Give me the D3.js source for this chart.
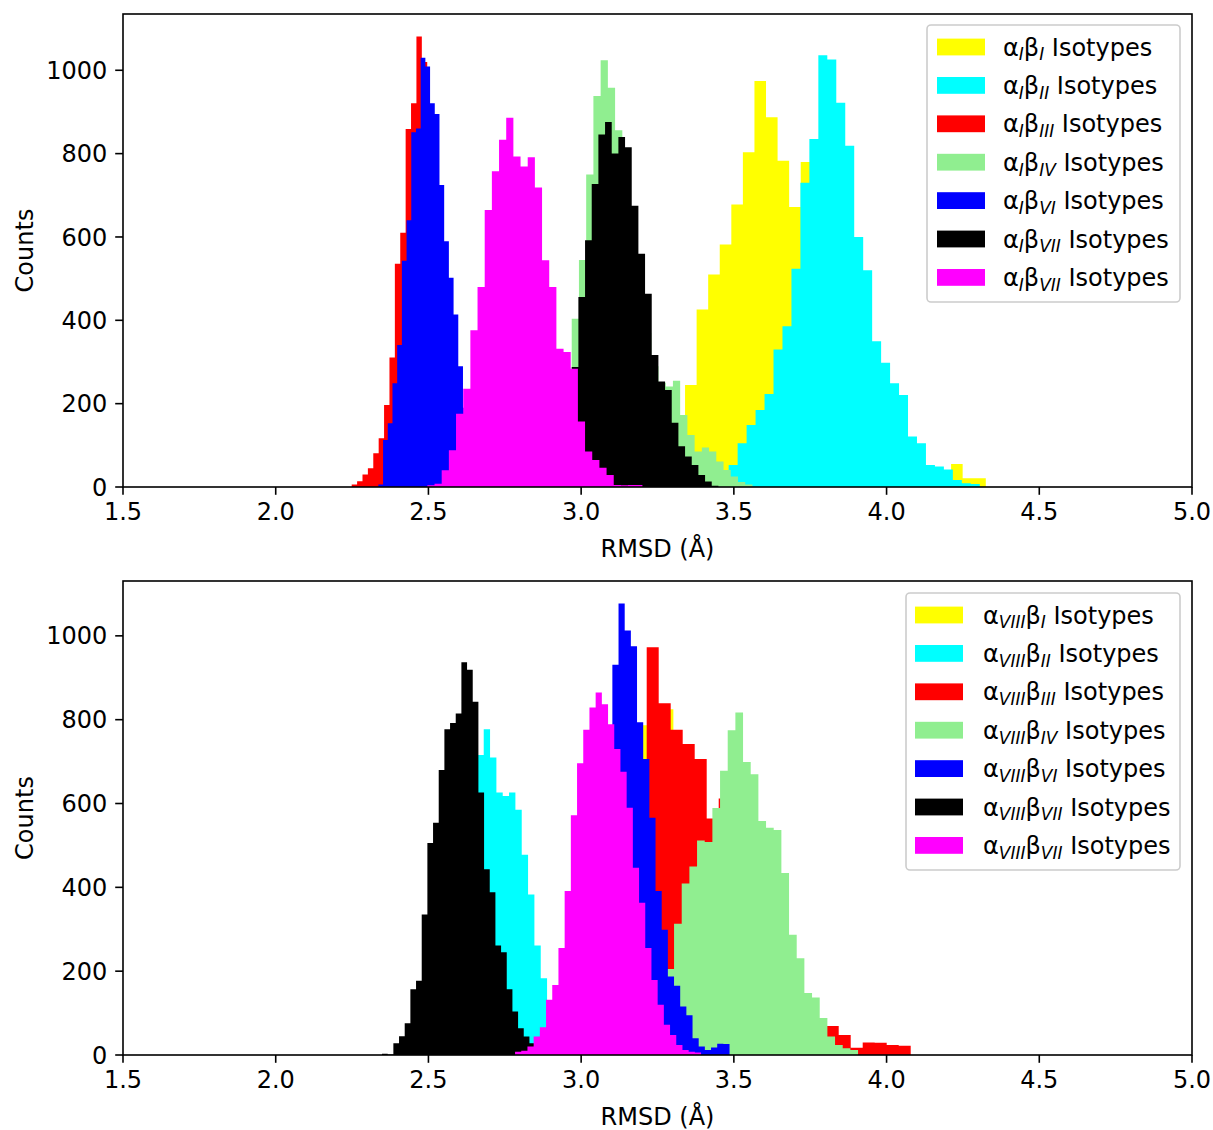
<!DOCTYPE html>
<html>
<head>
<meta charset="utf-8">
<script src="https://cdn.jsdelivr.net/npm/d3@7"></script>
<style>
  html, body { margin: 0; padding: 0; background: #ffffff; }
  svg text { font-family: "DejaVu Sans", "Liberation Sans", sans-serif; fill: #000; }
</style>
</head>
<body>
<svg id="fig" width="1213" height="1130"></svg>
<script>
// ---- Series order, colours and legend subscripts (shared by both panels) ----
const seriesColors = ["#ffff00", "#00ffff", "#ff0000", "#90ee90", "#0000ff", "#000000", "#ff00ff"];
const betaSubs = ["I", "II", "III", "IV", "VI", "VII", "VII"];
const alphaSubs = ["I", "VIII"];
const xTicks = [1.5, 2.0, 2.5, 3.0, 3.5, 4.0, 4.5, 5.0];
const yTicks = [0, 200, 400, 600, 800, 1000];

// ---- Panel 1 (alpha I): first bin edge and bin width per series (RMSD, Å) ----
const topStarts = [3.2266, 3.4243, 2.2488, 2.9218, 2.3361, 2.9255, 2.4965];
const topWidths = [0.03787, 0.02936, 0.01766, 0.02367, 0.01539, 0.02183, 0.02347];

// Panel 1 counts per bin
const topYellow = [15, 50, 130, 245, 426, 510, 582, 678, 803, 974, 887, 783, 672, 780, 700, 600, 480, 380, 290, 210, 150, 100, 70, 50, 35, 30, 55, 21, 21];
const topCyan = [8, 25, 53, 105, 149, 185, 223, 330, 386, 524, 730, 835, 1036, 1026, 922, 819, 600, 520, 350, 298, 249, 221, 121, 105, 53, 49, 42, 17, 9, 7];
const topRed = [6, 14, 30, 45, 81, 117, 197, 311, 536, 610, 859, 921, 1081, 1020, 880, 720, 560, 400, 270, 170, 100, 55, 25, 10, 4];
const topGreen = [60, 150, 404, 545, 750, 938, 1024, 958, 856, 720, 600, 470, 370, 290, 250, 241, 255, 173, 125, 85, 95, 85, 61, 41, 25, 12, 6];
const topBlue = [6, 113, 153, 249, 341, 543, 640, 851, 860, 1030, 1009, 921, 895, 725, 590, 502, 414, 290, 190, 110, 60, 30, 12, 5];
const topBlack = [30, 120, 288, 456, 592, 727, 846, 876, 800, 840, 815, 675, 560, 464, 317, 253, 233, 154, 98, 73, 53, 29, 13, 3];
const topMagenta = [4, 8, 40, 88, 176, 236, 376, 480, 665, 758, 833, 886, 793, 769, 791, 719, 544, 480, 332, 324, 284, 157, 85, 65, 46, 29, 5, 4, 5, 5];

// ---- Panel 2 (alpha VIII): first bin edge and bin width per series ----
const botStarts = [2.9876, 2.5566, 2.9789, 3.1285, 2.9609, 2.3481, 2.7836];
const botWidths = [0.03929, 0.02074, 0.03929, 0.02510, 0.02019, 0.01856, 0.02030];

// Panel 2 counts per bin
const botYellow = [20, 60, 150, 300, 500, 787, 820, 825, 720, 680, 540, 450, 350, 260, 180, 120, 80, 50, 30, 20, 10];
const botCyan = [60, 150, 300, 450, 600, 716, 777, 710, 626, 618, 626, 585, 478, 383, 261, 183, 100, 40, 10];
const botRed = [20, 60, 130, 250, 400, 600, 973, 839, 776, 742, 706, 564, 612, 480, 350, 250, 180, 130, 100, 80, 60, 69, 48, 17, 30, 29, 24, 22];
const botGreen = [5, 10, 20, 40, 70, 120, 205, 313, 409, 450, 512, 508, 589, 678, 775, 817, 699, 670, 558, 542, 537, 434, 287, 231, 148, 137, 88, 44, 24, 16, 12];
const botBlue = [20, 50, 110, 200, 330, 500, 700, 931, 1077, 1013, 975, 794, 706, 566, 391, 299, 187, 165, 116, 95, 40, 20, 12, 18, 27, 26];
const botBlack = [3, 1, 28, 45, 76, 157, 177, 335, 506, 554, 680, 777, 792, 815, 937, 919, 843, 626, 443, 388, 261, 245, 157, 104, 64, 44, 28, 6];
const botMagenta = [8, 10, 20, 44, 66, 132, 167, 255, 391, 572, 696, 776, 829, 865, 837, 789, 730, 676, 590, 447, 363, 255, 179, 120, 72, 48, 24, 12, 8, 6];

const panels = [
  {
    alpha: alphaSubs[0],
    starts: topStarts, widths: topWidths,
    counts: [topYellow, topCyan, topRed, topGreen, topBlue, topBlack, topMagenta],
    top: 14, bottom: 487,
    legend: { x: 927, y: 25, w: 253, h: 277, patchX: 937, textX: 1003 }
  },
  {
    alpha: alphaSubs[1],
    starts: botStarts, widths: botWidths,
    counts: [botYellow, botCyan, botRed, botGreen, botBlue, botBlack, botMagenta],
    top: 581, bottom: 1055,
    legend: { x: 906, y: 593, w: 274, h: 277, patchX: 915, textX: 983 }
  }
];

const svg = d3.select("#fig");
svg.append("rect").attr("width", 1213).attr("height", 1130).attr("fill", "#ffffff");

const left = 123, right = 1192;
const fontSize = 24, subSize = 17, subShift = 4.8;
const tickLen = 7.8, tickPad = 7.8;

panels.forEach(p => {
  const x = d3.scaleLinear().domain([1.5, 5.0]).range([left, right]);
  const maxCount = d3.max(p.counts, c => d3.max(c));
  const y = d3.scaleLinear().domain([0, maxCount * 1.05]).range([p.bottom, p.top]);

  const g = svg.append("g");

  // clip histograms to the axes box
  const clipId = "clip" + p.top;
  svg.append("clipPath").attr("id", clipId)
    .append("rect").attr("x", left).attr("y", p.top)
    .attr("width", right - left).attr("height", p.bottom - p.top);

  // step-filled histogram for each series, drawn in legend order
  const area = d3.area()
    .curve(d3.curveStepAfter)
    .x(d => x(d[0]))
    .y0(y(0))
    .y1(d => y(d[1]));

  const hist = g.append("g").attr("clip-path", `url(#${clipId})`);
  p.counts.forEach((counts, si) => {
    const start = p.starts[si], w = p.widths[si];
    const pts = counts.map((c, i) => [start + i * w, c]);
    pts.push([start + counts.length * w, counts[counts.length - 1]]);
    hist.append("path")
      .attr("d", area(pts))
      .attr("fill", seriesColors[si])
      .attr("stroke", "none");
  });

  // axes frame
  g.append("rect")
    .attr("x", left).attr("y", p.top)
    .attr("width", right - left).attr("height", p.bottom - p.top)
    .attr("fill", "none").attr("stroke", "#000").attr("stroke-width", 1.6);

  // x ticks
  const xt = g.append("g");
  xTicks.forEach(t => {
    xt.append("line")
      .attr("x1", x(t)).attr("x2", x(t))
      .attr("y1", p.bottom).attr("y2", p.bottom + tickLen)
      .attr("stroke", "#000").attr("stroke-width", 1.6);
    xt.append("text")
      .attr("x", x(t)).attr("y", p.bottom + tickLen + tickPad + 0.74 * fontSize)
      .attr("text-anchor", "middle").attr("font-size", fontSize)
      .text(d3.format(".1f")(t));
  });

  // y ticks
  const yt = g.append("g");
  yTicks.forEach(t => {
    yt.append("line")
      .attr("x1", left - tickLen).attr("x2", left)
      .attr("y1", y(t)).attr("y2", y(t))
      .attr("stroke", "#000").attr("stroke-width", 1.6);
    yt.append("text")
      .attr("x", left - tickLen - tickPad).attr("y", y(t))
      .attr("dy", "0.36em")
      .attr("text-anchor", "end").attr("font-size", fontSize)
      .text(t);
  });

  // axis labels
  g.append("text")
    .attr("x", (left + right) / 2).attr("y", p.bottom + 70)
    .attr("text-anchor", "middle").attr("font-size", fontSize)
    .text("RMSD (Å)");
  g.append("text")
    .attr("transform", `translate(33,${(p.top + p.bottom) / 2}) rotate(-90)`)
    .attr("text-anchor", "middle").attr("font-size", fontSize)
    .text("Counts");

  // legend
  const L = p.legend;
  const lg = g.append("g");
  lg.append("rect")
    .attr("x", L.x).attr("y", L.y).attr("width", L.w).attr("height", L.h)
    .attr("rx", 4).attr("ry", 4)
    .attr("fill", "#ffffff").attr("fill-opacity", 0.8)
    .attr("stroke", "#cccccc").attr("stroke-width", 1.6);

  const rowGap = 38.4;
  seriesColors.forEach((col, si) => {
    const cy = L.y + 22 + si * rowGap;
    lg.append("rect")
      .attr("x", L.patchX).attr("y", cy - 8.4)
      .attr("width", 48).attr("height", 16.8)
      .attr("fill", col);
    const t = lg.append("text")
      .attr("x", L.textX).attr("y", cy + 8.5)
      .attr("font-size", fontSize);
    t.append("tspan").text("α");
    t.append("tspan").attr("font-size", subSize).attr("font-style", "italic")
      .attr("dy", subShift).text(p.alpha);
    t.append("tspan").attr("dy", -subShift).text("β");
    t.append("tspan").attr("font-size", subSize).attr("font-style", "italic")
      .attr("dy", subShift).text(betaSubs[si]);
    t.append("tspan").attr("dy", -subShift).text(" Isotypes");
  });
});
</script>
</body>
</html>
